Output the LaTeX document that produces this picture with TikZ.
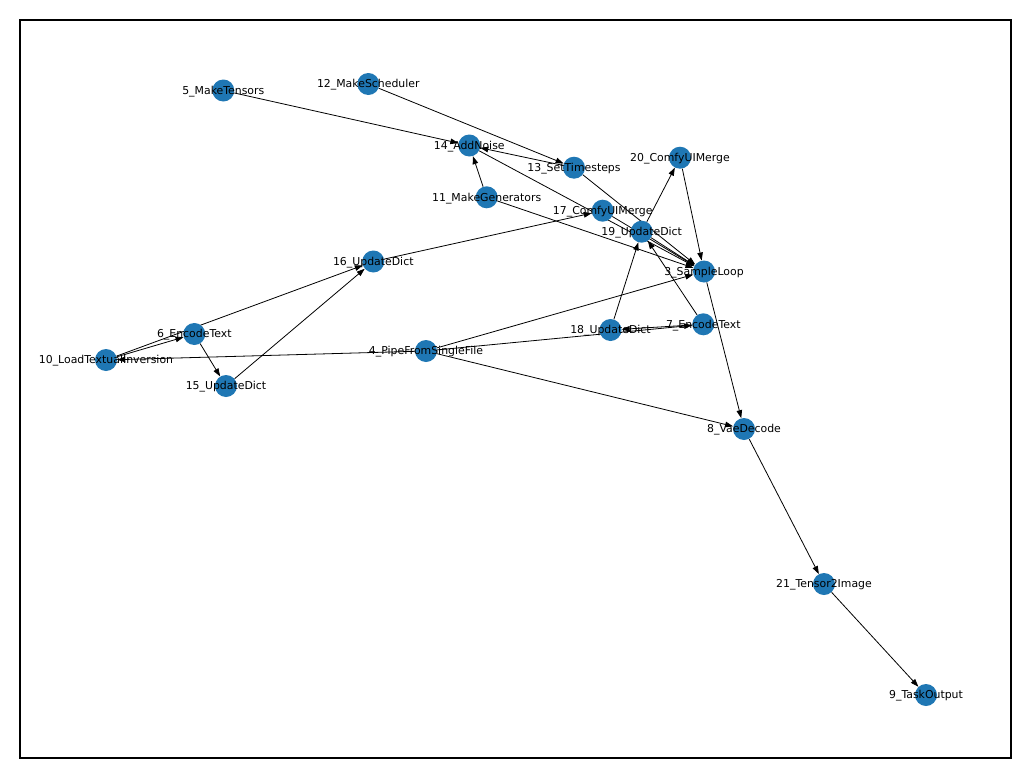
\documentclass[tikz,border=0pt]{standalone}
\usepackage{fontspec}
\setmainfont{DejaVu Sans}
\usetikzlibrary{arrows.meta}
\definecolor{nxblue}{HTML}{1F77B4}
\pgfdeclarelayer{bg}
\pgfsetlayers{bg,main}
\begin{document}
\begin{tikzpicture}[x=1pt,y=-1pt,
  vertex/.style={circle, fill=nxblue, minimum size=22pt, inner sep=0pt},
  lab/.style={font=\fontsize{10.9}{12}\selectfont, inner sep=0pt, yshift=-1pt},
  edge/.style={-{Triangle[length=8pt,width=5.5pt]}, line width=0.8pt}]
\useasboundingbox (0,0) rectangle (1031,779);
\draw[line width=1.6pt] (20,20) rectangle (1011,758);

% nodes
\node[vertex] (n3)  at (704,271.5) {};
\node[vertex] (n4)  at (426,351) {};
\node[vertex] (n5)  at (223.3,90.5) {};
\node[vertex] (n6)  at (194.3,334) {};
\node[vertex] (n7)  at (703.3,324.3) {};
\node[vertex] (n8)  at (744,429) {};
\node[vertex] (n9)  at (926,695) {};
\node[vertex] (n10) at (106,360) {};
\node[vertex] (n11) at (486.7,197.3) {};
\node[vertex] (n12) at (368.3,84) {};
\node[vertex] (n13) at (574,167.7) {};
\node[vertex] (n14) at (469.3,145.5) {};
\node[vertex] (n15) at (226,386) {};
\node[vertex] (n16) at (373.3,261.5) {};
\node[vertex] (n17) at (602.7,210.7) {};
\node[vertex] (n18) at (610.5,330) {};
\node[vertex] (n19) at (641.7,231.7) {};
\node[vertex] (n20) at (680,157.7) {};
\node[vertex] (n21) at (824,584) {};

% labels
\node[lab] (t3)  at (n3)  {3\_SampleLoop};
\node[lab] (t4)  at (n4)  {4\_PipeFromSingleFile};
\node[lab] (t5)  at (n5)  {5\_MakeTensors};
\node[lab] (t6)  at (n6)  {6\_EncodeText};
\node[lab] (t7)  at (n7)  {7\_EncodeText};
\node[lab] (t8)  at (n8)  {8\_VaeDecode};
\node[lab] (t9)  at (n9)  {9\_TaskOutput};
\node[lab] (t10) at (n10) {10\_LoadTextualInversion};
\node[lab] (t11) at (n11) {11\_MakeGenerators};
\node[lab] (t12) at (n12) {12\_MakeScheduler};
\node[lab] (t13) at (n13) {13\_SetTimesteps};
\node[lab] (t14) at (n14) {14\_AddNoise};
\node[lab] (t15) at (n15) {15\_UpdateDict};
\node[lab] (t16) at (n16) {16\_UpdateDict};
\node[lab] (t17) at (n17) {17\_ComfyUIMerge};
\node[lab] (t18) at (n18) {18\_UpdateDict};
\node[lab] (t19) at (n19) {19\_UpdateDict};
\node[lab] (t20) at (n20) {20\_ComfyUIMerge};
\node[lab] (t21) at (n21) {21\_Tensor2Image};

% edges, kept under the nodes
\begin{pgfonlayer}{bg}
\fill[white] (0,0) rectangle (1031,779);
\draw[edge] (n5) -- (n14);
\draw[edge] (n12) -- (n13);
\draw[edge] (n13) -- (n14);
\draw[edge] (n11) -- (n14);
\draw[edge] (n11) -- (n3);
\draw[edge] (n14) -- (n3);
\draw[edge] (n13) -- (n3);
\draw[edge] (n17) -- (n3);
\draw[edge] (n19) -- (n3);
\draw[edge] (n20) -- (n3);
\draw[edge] (n19) -- (n20);
\draw[edge] (n16) -- (n17);
\draw[edge] (n15) -- (n16);
\draw[edge] (n10) -- (n16);
\draw[edge] (n10) -- (n6);
\draw[edge] (n6) -- (n15);
\draw[edge] (n4) -- (n10);
\draw[edge] (n4) -- (n7);
\draw[edge] (n7) -- (n18);
\draw[edge] (n18) -- (n19);
\draw[edge] (n7) -- (n19);
\draw[edge] (n4) -- (n3);
\draw[edge] (n4) -- (n8);
\draw[edge] (n3) -- (n8);
\draw[edge] (n8) -- (n21);
\draw[edge] (n21) -- (n9);
\end{pgfonlayer}
\end{tikzpicture}
\end{document}
